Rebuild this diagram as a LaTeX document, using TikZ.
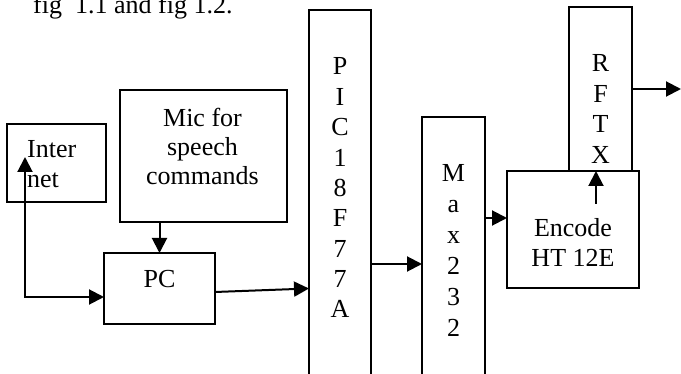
\documentclass[tikz,border=0pt]{standalone}
\usepackage{fontspec}
\setmainfont{Liberation Serif}
\usetikzlibrary{arrows.meta,calc}
\begin{document}
\begin{tikzpicture}[x=1pt,y=-1pt,>={Triangle[length=15pt,width=15pt]},
  box/.style={draw,line width=1.6pt,inner sep=0pt,outer sep=0pt},
  lbl/.style={inner sep=0pt,align=center,anchor=base,font=\fontsize{26}{30.5}\selectfont},
  arr/.style={line width=2pt,->}]
\useasboundingbox (0,0) rectangle (681,374);
\clip (0,0) rectangle (681,374);

\node[lbl,anchor=base west] (title) at (33,14) {fig\ \ 1.1 and fig 1.2.};

% blocks
\node[box,minimum width=99,minimum height=78] (inet) at (56.5,163) {};
\node[lbl,align=left,anchor=base west] (inettxt) at (27,188) {Inter\\net};
\node[box,minimum width=167,minimum height=132] (mic) at (203.5,156) {};
\node[lbl,font=\fontsize{26}{29}\selectfont] (mictxt) at (202.5,185) {Mic for\\speech\\commands};
\node[box,minimum width=111,minimum height=71] (pc) at (159.5,288.5) {};
\node[lbl] (pctxt) at (159.5,288) {PC};
\node[box,minimum width=62,minimum height=400] (pic) at (340,210) {};
\node[lbl,font=\fontsize{26}{30.4}\selectfont] (pictxt) at (340,318) {P\\I\\C\\1\\8\\F\\7\\7\\A};
\node[box,minimum width=63,minimum height=294] (max) at (453.5,264) {};
\node[lbl,font=\fontsize{26}{31}\selectfont] (maxtxt) at (453.5,337) {M\\a\\x\\2\\3\\2};
\node[box,minimum width=63,minimum height=164] (rftx) at (600.5,89) {};
\node[lbl] (rftxtxt) at (600.5,163.5) {R\\F\\T\\X};
\node[box,minimum width=132,minimum height=117] (enc) at (573,229.5) {};
\node[lbl,font=\fontsize{26}{30}\selectfont] (enctxt) at (573,267) {Encode\\HT 12E};

% connectors
\coordinate (inetend) at (25,157);
\draw[arr,<->] (inetend) |- ($(pc.west)+(0,8.5)$);
\draw[arr] (mic.south -| pc.north) -- (pc.north);
\draw[arr] ($(pc.east)+(0,3.5)$) -- (pc.east -| pic.west);
\draw[arr] (max.west -| pic.east) -- (max.west);
\coordinate (encin) at ($(enc.west)+(0,-11.5)$);
\draw[arr] (encin -| max.east) -- (encin);
\coordinate (encout) at (596,204);
\draw[arr] (encout) -- (encout |- rftx.south);
\coordinate (rfout) at (681,89);
\draw[arr] (rftx.east) -- (rfout);

\end{tikzpicture}
\end{document}
